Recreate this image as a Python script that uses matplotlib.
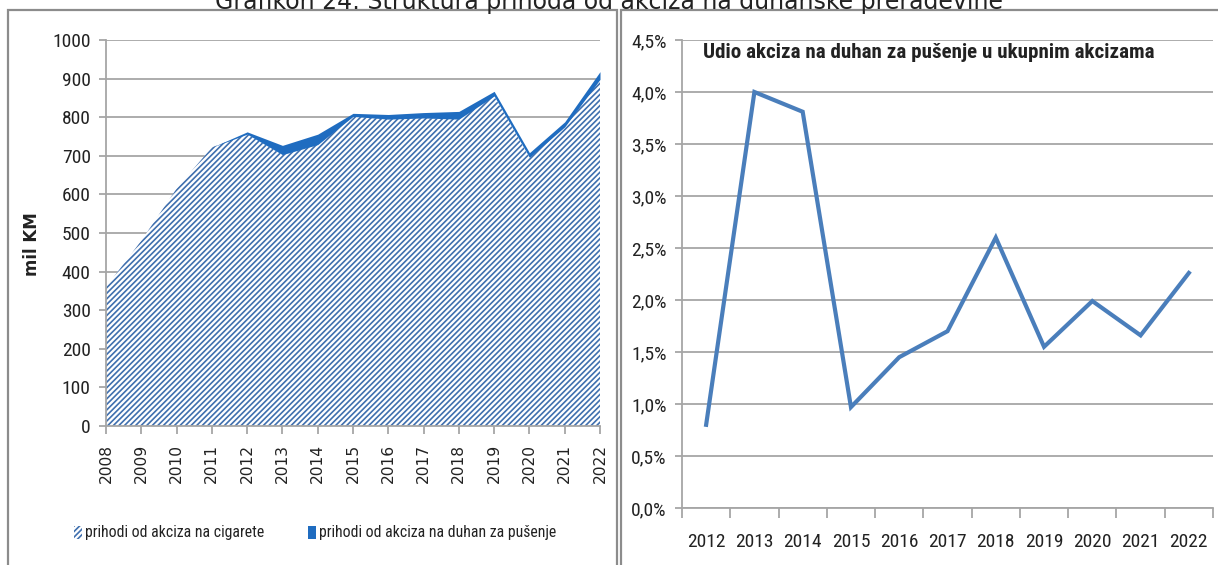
import matplotlib
matplotlib.use("Agg")
import matplotlib.pyplot as plt
from matplotlib.patches import Rectangle
from matplotlib.ticker import FuncFormatter, FixedLocator
from matplotlib import font_manager as fm

# ---------------- data ----------------
years_left = [2008, 2009, 2010, 2011, 2012, 2013, 2014, 2015, 2016, 2017, 2018, 2019, 2020, 2021, 2022]
cigarettes = [360, 480, 615, 722, 756, 703, 729, 802, 795, 798, 795, 855, 696, 775, 898]
smoking_tobacco = [0, 0, 0, 0, 6, 24, 27, 8, 12, 14, 20, 12, 12, 13, 20]

years_right = ["2012", "2013", "2014", "2015", "2016", "2017", "2018", "2019", "2020", "2021", "2022"]
share_pct = [0.80, 4.00, 3.81, 0.97, 1.45, 1.70, 2.60, 1.55, 1.99, 1.66, 2.26]

y_ticks_left = [0, 100, 200, 300, 400, 500, 600, 700, 800, 900, 1000]
y_ticks_right = [0.0, 0.5, 1.0, 1.5, 2.0, 2.5, 3.0, 3.5, 4.0, 4.5]

title = "Grafikon 24: Struktura prihoda od akciza na duhanske prerađevine"
right_title = "Udio akciza na duhan za pušenje u ukupnim akcizama"
legend_labels = ["prihodi od akciza na cigarete", "prihodi od akciza na duhan za pušenje"]
ylabel_left = "mil KM"

# ---------------- style ----------------
avail = {f.name for f in fm.fontManager.ttflist}
NARROW = ["Liberation Sans Narrow", "Roboto Condensed", "Open Sans Condensed", "Liberation Sans", "DejaVu Sans"]
NARROW = [f for f in NARROW if f in avail] or ["DejaVu Sans"]

HATCH_BLUE = "#3f6fae"
DARK_BLUE = "#1f6cc0"
LINE_BLUE = "#4a7ebb"
GRID = "#a6a6a6"
TXT = "#222222"

plt.rcParams["hatch.linewidth"] = 1.2

W, H = 1218, 565
fig = plt.figure(figsize=(W / 100, H / 100), dpi=100)

def fx(px):
    return px / W

def fy(py):
    return 1 - py / H

# panel borders
fig.patches.append(Rectangle((fx(8), fy(600)), fx(617) - fx(8), fy(10) - fy(600),
                             transform=fig.transFigure, fill=False, edgecolor="#8c8c8c", lw=1.6))
fig.patches.append(Rectangle((fx(621), fy(600)), fx(1260) - fx(621), fy(10) - fy(600),
                             transform=fig.transFigure, fill=False, edgecolor="#8c8c8c", lw=1.6))

# title (partly cut at top, as in the source)
fig.text(0.5, fy(8.5), title, ha="center", va="baseline", fontsize=17,
         family="DejaVu Sans", color=TXT)

# ---------------- left chart ----------------
axL = fig.add_axes([fx(106), fy(426), fx(600) - fx(106), fy(40) - fy(426)])
polys = axL.stackplot(years_left, cigarettes, smoking_tobacco,
                      colors=["white", DARK_BLUE], labels=legend_labels, zorder=2)
polys[0].set_hatch("//////")
polys[0].set_edgecolor(HATCH_BLUE)
polys[0].set_linewidth(0)
polys[1].set_edgecolor(DARK_BLUE)
polys[1].set_linewidth(0)

axL.set_xlim(years_left[0], years_left[-1])
axL.set_ylim(0, 1000)
axL.set_yticks(y_ticks_left)
axL.set_xticks(years_left)
axL.set_xticklabels([str(y) for y in years_left], rotation=90, family="DejaVu Sans",
                    fontsize=11.2, color=TXT)
for lab in axL.get_yticklabels():
    lab.set_family(NARROW)
    lab.set_fontsize(14)
    lab.set_color(TXT)
axL.yaxis.grid(True, color=GRID, lw=1.3, zorder=0)
axL.set_axisbelow(True)
for s in ["top", "right"]:
    axL.spines[s].set_visible(False)
for s in ["left", "bottom"]:
    axL.spines[s].set_color(GRID)
    axL.spines[s].set_linewidth(1.3)
axL.tick_params(axis="y", length=5, color=GRID, width=1.3, pad=6)
axL.tick_params(axis="x", length=6, color=GRID, width=1.3, pad=7)
axL.set_ylabel(ylabel_left, fontsize=12, fontweight="bold", family="DejaVu Sans", color=TXT)
axL.yaxis.set_label_coords((41 - 106) / 494, (426 - 244) / 386)

leg = fig.legend(handles=polys, labels=legend_labels, loc="center left",
                 bbox_to_anchor=(fx(60), fy(533)), ncol=2, frameon=False,
                 prop={"family": NARROW, "size": 11.3}, handlelength=0.5, handleheight=0.9,
                 handletextpad=0.2, columnspacing=2.8)
for t in leg.get_texts():
    t.set_color(TXT)

# ---------------- right chart ----------------
axR = fig.add_axes([fx(682), fy(508), fx(1213) - fx(682), fy(40) - fy(508)])
xpos = list(range(len(years_right)))
axR.plot(xpos, share_pct, color=LINE_BLUE, lw=3, solid_joinstyle="miter", zorder=3)
axR.set_xlim(-0.5, len(years_right) - 0.5)
axR.set_ylim(0, 4.5)
axR.set_yticks(y_ticks_right)
axR.yaxis.set_major_formatter(FuncFormatter(lambda v, p: f"{v:.1f}%".replace(".", ",")))
axR.xaxis.set_major_locator(FixedLocator([i - 0.5 for i in range(len(years_right) + 1)]))
axR.xaxis.set_major_formatter(FuncFormatter(lambda v, p: ""))
axR.set_xticks(xpos, minor=True)
axR.set_xticklabels(years_right, minor=True)
axR.tick_params(axis="x", which="minor", length=0, pad=18)
axR.tick_params(axis="x", which="major", length=7, color=GRID, width=1.3)
axR.tick_params(axis="y", length=5, color=GRID, width=1.3, pad=6)
for lab in axR.get_yticklabels() + axR.get_xticklabels(minor=True):
    lab.set_family(NARROW)
    lab.set_fontsize(14)
    lab.set_color(TXT)
axR.yaxis.grid(True, color=GRID, lw=1.3, zorder=0)
axR.set_axisbelow(True)
for s in ["top", "right"]:
    axR.spines[s].set_visible(False)
for s in ["left", "bottom"]:
    axR.spines[s].set_color(GRID)
    axR.spines[s].set_linewidth(1.3)
axR.text((703 - 682) / 531, (508 - 53) / 468, right_title, transform=axR.transAxes,
         ha="left", va="center", fontsize=15.1, fontweight="bold", family=NARROW, color=TXT)

fig.savefig("out.png", dpi=100)
